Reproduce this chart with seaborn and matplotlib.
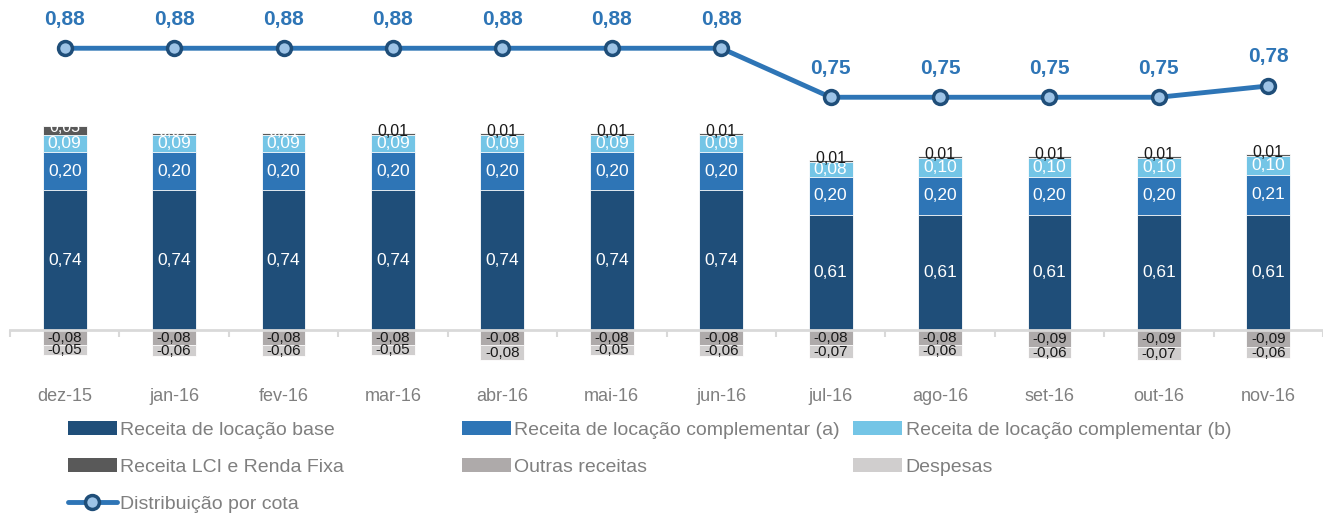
import numpy as np
import pandas as pd
import matplotlib
matplotlib.use("Agg")
import matplotlib.pyplot as plt
from matplotlib.patches import Patch
from matplotlib.lines import Line2D
import seaborn as sns

# data
months = ["dez-15", "jan-16", "fev-16", "mar-16", "abr-16", "mai-16",
          "jun-16", "jul-16", "ago-16", "set-16", "out-16", "nov-16"]
base = [0.74, 0.74, 0.74, 0.74, 0.74, 0.74, 0.74, 0.61, 0.61, 0.61, 0.61, 0.61]
comp_a = [0.20, 0.20, 0.20, 0.20, 0.20, 0.20, 0.20, 0.20, 0.20, 0.20, 0.20, 0.21]
comp_b = [0.09, 0.09, 0.09, 0.09, 0.09, 0.09, 0.09, 0.08, 0.10, 0.10, 0.10, 0.10]
lci = [0.05, 0.01, 0.01, 0.01, 0.01, 0.01, 0.01, 0.01, 0.01, 0.01, 0.01, 0.01]
outras = [-0.08, -0.08, -0.08, -0.08, -0.08, -0.08, -0.08, -0.08, -0.08, -0.09, -0.09, -0.09]
despesas = [-0.05, -0.06, -0.06, -0.05, -0.08, -0.05, -0.06, -0.07, -0.06, -0.06, -0.07, -0.06]
dist = [0.88, 0.88, 0.88, 0.88, 0.88, 0.88, 0.88, 0.75, 0.75, 0.75, 0.75, 0.78]

labels = ["Receita de locação base", "Receita de locação complementar (a)",
          "Receita de locação complementar (b)", "Receita LCI e Renda Fixa",
          "Outras receitas", "Despesas", "Distribuição por cota"]
colors = ["#1F4E79", "#2E75B6", "#74C5E6", "#595959", "#AEAAAA", "#D0CECE"]
line_color = "#2E75B6"

sns.set_theme(style="white")
plt.rcParams["font.family"] = ["Liberation Sans", "DejaVu Sans"]

df = pd.DataFrame({"mes": months, "base": base, "a": comp_a, "b": comp_b,
                   "lci": lci, "outras": outras, "despesas": despesas, "dist": dist})
df["c1"] = df["base"]
df["c2"] = df["c1"] + df["a"]
df["c3"] = df["c2"] + df["b"]
df["c4"] = df["c3"] + df["lci"]
df["n1"] = df["outras"]
df["n2"] = df["outras"] + df["despesas"]

W, H = 1323, 516
fig = plt.figure(figsize=(W / 100, H / 100), dpi=100)
ax = fig.add_axes([10 / W, 1 - 380 / H, 1313 / W, 370 / H])

# stacked bars drawn by overlapping cumulative totals
layers = [("c4", colors[3]), ("c3", colors[2]), ("c2", colors[1]), ("c1", colors[0]),
          ("n2", colors[5]), ("n1", colors[4])]
for col, c in layers:
    sns.barplot(data=df, x="mes", y=col, color=c, width=0.4, saturation=1,
                edgecolor="white", linewidth=0.6, errorbar=None, ax=ax)

def fmt(v):
    return f"{v:.2f}".replace(".", ",")

for i, r in df.iterrows():
    ax.text(i, r["base"] / 2, fmt(r["base"]), ha="center", va="center", color="white", fontsize=12.5)
    ax.text(i, r["c1"] + r["a"] / 2, fmt(r["a"]), ha="center", va="center", color="white", fontsize=12.5)
    ax.text(i, r["c2"] + r["b"] / 2, fmt(r["b"]), ha="center", va="center", color="white", fontsize=12.5)
    ax.annotate(fmt(r["lci"]), (i, r["c3"] + r["lci"] / 2), xytext=(0, 2), textcoords="offset points",
                ha="center", va="center", color="white" if i < 3 else "#1a1a1a", fontsize=11.5)
    ax.text(i, r["outras"] / 2, fmt(r["outras"]), ha="center", va="center", color="#1a1a1a", fontsize=11)
    ax.text(i, r["outras"] + r["despesas"] / 2, fmt(r["despesas"]), ha="center", va="center",
            color="#1a1a1a", fontsize=11)

ax.set_ylim(-50 / 189, 320 / 189)
for s in ["top", "left", "right"]:
    ax.spines[s].set_visible(False)
ax.spines["bottom"].set_position(("data", 0))
ax.spines["bottom"].set_color("#D9D9D9")
ax.spines["bottom"].set_linewidth(2)
ax.set_yticks([])
ax.set_xlabel("")
ax.set_ylabel("")
ax.set_xticks(np.arange(-0.5, len(months), 1), minor=True)
ax.tick_params(axis="x", which="major", length=0, pad=42, labelsize=13, labelcolor="#7F7F7F")
ax.tick_params(axis="x", which="minor", length=5, width=1.5, color="#D9D9D9", direction="out", bottom=True)

# distribution line on its own scale
ax2 = ax.twinx()
sns.lineplot(x=np.arange(len(months)), y=df["dist"], ax=ax2, color=line_color, linewidth=3.5,
             marker="o", markersize=10, markerfacecolor="#9DC3E6", markeredgecolor="#1F4E79",
             markeredgewidth=2.5)
for i, v in enumerate(dist):
    ax2.annotate(fmt(v), (i, v), xytext=(0, 21), textcoords="offset points", ha="center",
                 va="center", color=line_color, fontsize=15, fontweight="bold")
ax2.set_ylim(0, 370 / 377)
ax2.set_yticks([])
ax2.set_ylabel("")
for s in ax2.spines.values():
    s.set_visible(False)
ax.set_xlim(-0.5, len(months) - 0.5)

# legend in three columns placed like the reference
patches = [Patch(facecolor=c, edgecolor="none") for c in colors]
line_handle = Line2D([], [], color=line_color, linewidth=3.5, marker="o", markersize=10,
                     markerfacecolor="#9DC3E6", markeredgecolor="#1F4E79", markeredgewidth=2.5)
cols = [([patches[0], patches[3], line_handle], [labels[0], labels[3], labels[6]], 68),
        ([patches[1], patches[4]], [labels[1], labels[4]], 462),
        ([patches[2], patches[5]], [labels[2], labels[5]], 853)]
for hs, ls, xpx in cols:
    fig.legend(hs, ls, loc="upper left", bbox_to_anchor=(xpx / W, 1 - 421 / H), frameon=False,
               fontsize=14, labelcolor="#7F7F7F", handlelength=2.5, handleheight=0.7,
               handletextpad=0.2, labelspacing=1.0, borderpad=0, borderaxespad=0)

fig.savefig("out.png", dpi=100)
